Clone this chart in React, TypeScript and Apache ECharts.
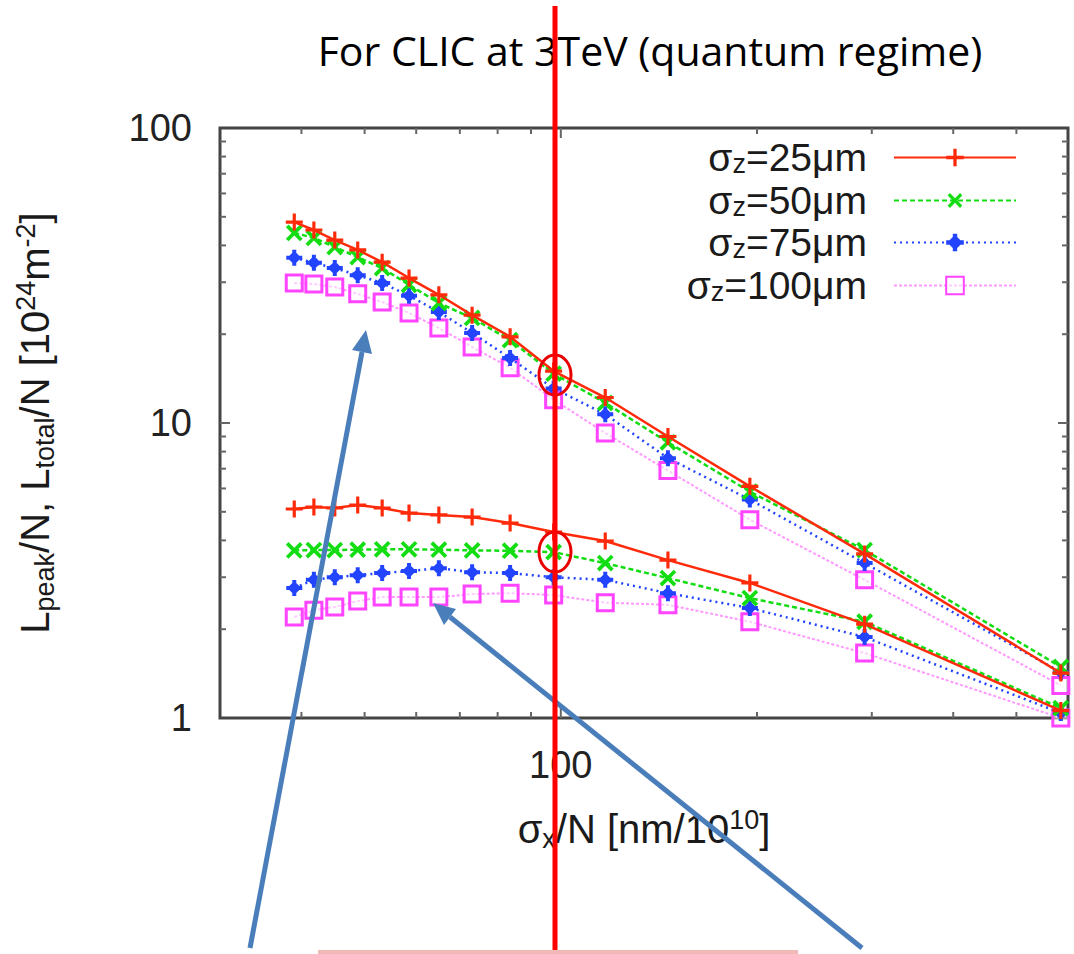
import React, { useEffect, useRef } from 'react';
import * as echarts from 'echarts';

// x: sigma_x / N [nm/1e10]
const xValues = [39, 41.8, 45, 48.8, 53.2, 58.5, 65, 73.1, 83.6, 97.5, 117, 146, 195, 292.5, 585];

// upper group
const red25Upper = [48.0, 45.1, 41.7, 38.6, 35.1, 31.0, 27.2, 23.2, 19.6, 15.0, 12.2, 9.0, 6.1, 3.6, 1.42];
const green50Upper = [44.1, 42.4, 39.5, 36.5, 33.5, 29.4, 25.5, 22.7, 19.1, 14.7, 11.7, 8.6, 5.85, 3.71, 1.49];
const blue75Upper = [36.3, 34.9, 33.5, 31.7, 29.8, 27.0, 23.8, 20.2, 16.6, 13.1, 10.7, 7.6, 5.5, 3.35, 1.43];
const magenta100Upper = [29.8, 29.6, 28.9, 27.4, 25.7, 23.6, 21.0, 18.1, 15.4, 12.0, 9.25, 6.9, 4.7, 2.94, 1.29];

// lower group
const red25Lower = [5.11, 5.19, 5.15, 5.27, 5.15, 4.95, 4.88, 4.80, 4.58, 4.27, 3.98, 3.43, 2.87, 2.08, 1.06];
const green50Lower = [3.70, 3.71, 3.71, 3.72, 3.73, 3.73, 3.72, 3.70, 3.69, 3.65, 3.35, 2.98, 2.55, 2.12, 1.08];
const blue75Lower = [2.76, 2.94, 3.00, 3.05, 3.10, 3.15, 3.22, 3.12, 3.10, 3.00, 2.94, 2.65, 2.36, 1.88, 1.04];
const magenta100Lower = [2.20, 2.32, 2.38, 2.49, 2.57, 2.57, 2.57, 2.63, 2.65, 2.61, 2.46, 2.42, 2.12, 1.66, 1.0];

const legendNames = ['σz=25μm', 'σz=50μm', 'σz=75μm', 'σz=100μm'];

const xMinorTicks = [40, 50, 60, 70, 80, 90, 200, 300, 400, 500];
const xMajorTicks = [100];
const yMinorTicks = [2, 3, 4, 5, 6, 7, 8, 9, 20, 30, 40, 50, 60, 70, 80, 90];
const yMajorTicks = [10];

const titleText = 'For CLIC at 3TeV (quantum regime)';

const PLUS = 'path://M6.5,0h3v6.5h6.5v3h-6.5v6.5h-3v-6.5h-6.5v-3h6.5z';
const STAR = 'path://M6,0h4v6h6v4h-6v6h-4v-6h-6v-4h6z M8,1 L15,8 L8,15 L1,8z';

const FONT = 'Liberation Sans';

function App() {
  const ref = useRef<HTMLDivElement>(null);
  useEffect(() => {
    const chart = echarts.init(ref.current as HTMLDivElement, null, { renderer: 'svg' });
    const pair = (ys: number[]) => xValues.map((x, i) => [x, ys[i]]);

    const styles = [
      { color: '#ff2a0a', type: 'solid', symbol: PLUS, size: 17, rotate: 0, item: { color: '#ff2a0a' }, width: 2.5 },
      { color: '#12dd12', type: [5, 3], symbol: PLUS, size: 20, rotate: 45, item: { color: '#12dd12' }, width: 2.5 },
      { color: '#2244ff', type: [2, 4], symbol: STAR, size: 16, rotate: 0, item: { color: '#2244ff' }, width: 2.5 },
      { color: '#ff99ff', type: [3, 2], symbol: 'rect', size: 16, rotate: 0, item: { color: 'rgba(255,255,255,0.5)', borderColor: '#ff44ff', borderWidth: 3 }, width: 2 },
    ];
    const groups = [
      [red25Upper, red25Lower],
      [green50Upper, green50Lower],
      [blue75Upper, blue75Lower],
      [magenta100Upper, magenta100Lower],
    ];
    const lineSeries: any[] = [];
    groups.forEach((g, i) => {
      const s = styles[i];
      g.forEach((ys) => {
        lineSeries.push({
          type: 'line',
          name: legendNames[i],
          data: pair(ys),
          symbol: s.symbol,
          symbolSize: s.size,
          symbolRotate: s.rotate,
          itemStyle: s.item,
          lineStyle: { color: s.color, width: s.width, type: s.type },
          clip: false,
          z: 10 - i,
        });
      });
    });

    const tickData = [
      ...xMinorTicks.map((v) => [v, 1, 0]),
      ...xMajorTicks.map((v) => [v, 1, 1]),
      ...yMinorTicks.map((v) => [30, v, 2]),
      ...yMajorTicks.map((v) => [30, v, 3]),
    ];

    const tickSeries = {
      type: 'custom',
      silent: true,
      data: tickData,
      encode: { x: 0, y: 1 },
      clip: false,
      z: 1,
      renderItem: (params: any, api: any) => {
        const kind = api.value(2);
        const st = { stroke: '#666', lineWidth: 2 };
        if (kind < 2) {
          const v = api.value(0);
          const b = api.coord([v, 1]);
          const t = api.coord([v, 100]);
          const L = kind === 1 ? 10 : 6;
          return {
            type: 'group',
            children: [
              { type: 'line', shape: { x1: b[0], y1: b[1], x2: b[0], y2: b[1] - L }, style: st },
              { type: 'line', shape: { x1: t[0], y1: t[1], x2: t[0], y2: t[1] + L }, style: st },
            ],
          };
        }
        const v = api.value(1);
        const l = api.coord([30, v]);
        const r = api.coord([600, v]);
        const L = kind === 3 ? 10 : 6;
        return {
          type: 'group',
          children: [
            { type: 'line', shape: { x1: l[0], y1: l[1], x2: l[0] + L, y2: l[1] }, style: st },
            { type: 'line', shape: { x1: r[0], y1: r[1], x2: r[0] - L, y2: r[1] }, style: st },
          ],
        };
      },
    };

    const mkRich = (big: number, small: number, lh: number, subLh: number) => ({
      a: { fontSize: big, fontFamily: FONT, color: '#1a1a1a', lineHeight: lh, verticalAlign: 'middle' },
      s: { fontSize: small, fontFamily: FONT, color: '#1a1a1a', lineHeight: subLh, verticalAlign: 'bottom' },
      p: { fontSize: small, fontFamily: FONT, color: '#1a1a1a', lineHeight: 24, verticalAlign: 'top' },
      g: { width: 22, fontSize: 10 },
    });
    const legendRich = mkRich(39, 27, 40, 16);
    const axisRich = mkRich(40, 27, 46, 22);

    const legendTops = [138, 181, 223, 266];
    const legends = legendNames.map((n, i) => ({
      data: [n],
      orient: 'horizontal',
      right: 57,
      top: legendTops[i],
      align: 'right',
      padding: 0,
      itemWidth: 122,
      itemHeight: 22,
      selectedMode: false,
      formatter: (name: string) => `{a|σ}{s|z}{a|${name.slice(2)}}{g| }`,
      textStyle: { rich: legendRich },
    }));

    const option: any = {
      animation: false,
      backgroundColor: '#ffffff',
      grid: { left: 220, right: 6, top: 128, bottom: 236, show: true, borderColor: '#444', borderWidth: 3, backgroundColor: 'transparent' },
      legend: legends,
      xAxis: {
        type: 'log',
        logBase: 10,
        min: 30,
        max: 600,
        axisLine: { show: false },
        axisTick: { show: false },
        splitLine: { show: false },
        axisLabel: { showMinLabel: false, showMaxLabel: false, fontSize: 38, fontFamily: FONT, color: '#222', margin: 28 },
        name: '{a|σ}{s|x}{a|/N [nm/10}{p|10}{a|]}',
        nameLocation: 'middle',
        nameGap: 88,
        nameTextStyle: { rich: axisRich },
      },
      yAxis: {
        type: 'log',
        logBase: 10,
        min: 1,
        max: 100,
        axisLine: { show: false },
        axisTick: { show: false },
        splitLine: { show: false },
        axisLabel: { fontSize: 38, fontFamily: FONT, color: '#222', margin: 28 },
        name: '{a|L}{s|peak}{a|/N, L}{s|total}{a|/N [10}{p|24}{a|m}{p|-2}{a|]}',
        nameLocation: 'middle',
        nameRotate: 90,
        nameGap: 162,
        nameTextStyle: { rich: axisRich },
      },
      series: [tickSeries, ...lineSeries],
      graphic: [
        {
          type: 'text', x: 650, y: 50, z: 100,
          style: { text: titleText, fontSize: 41, fontFamily: 'Open Sans', fill: '#000', align: 'center', verticalAlign: 'middle' },
        },
        { type: 'rect', z: 100, shape: { x: 318, y: 950, width: 480, height: 4 }, style: { fill: '#f2b8b8' } },
        { type: 'line', z: 101, shape: { x1: 250, y1: 948, x2: 362, y2: 352 }, style: { stroke: '#4a7ebb', lineWidth: 5 } },
        { type: 'polygon', z: 101, shape: { points: [[366, 330], [372, 354], [352, 350]] }, style: { fill: '#4a7ebb' } },
        { type: 'line', z: 101, shape: { x1: 862, y1: 948, x2: 450, y2: 617 }, style: { stroke: '#4a7ebb', lineWidth: 5 } },
        { type: 'polygon', z: 101, shape: { points: [[433, 603], [456, 609], [444, 625]] }, style: { fill: '#4a7ebb' } },
        { type: 'ellipse', z: 102, shape: { cx: 555, cy: 375, rx: 16, ry: 20 }, style: { fill: 'transparent', stroke: '#e80000', lineWidth: 3 } },
        { type: 'ellipse', z: 102, shape: { cx: 555, cy: 552, rx: 16, ry: 20 }, style: { fill: 'transparent', stroke: '#e80000', lineWidth: 3 } },
        { type: 'line', z: 103, shape: { x1: 555, y1: 6, x2: 555, y2: 950 }, style: { stroke: '#ff0000', lineWidth: 5 } },
      ],
    };
    chart.setOption(option);
    return () => chart.dispose();
  }, []);
  return (
    <div
      ref={ref}
      style={{ position: 'fixed', left: 0, top: 0, width: 1074, height: 954, background: '#fff' }}
    />
  );
}

export default App;
